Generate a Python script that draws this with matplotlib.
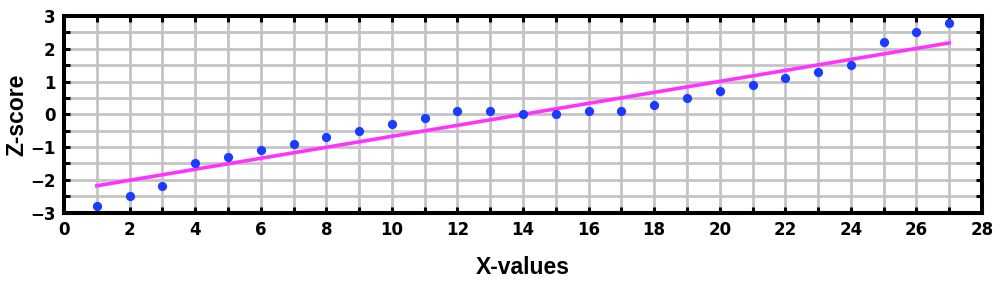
import matplotlib
matplotlib.use("Agg")
import matplotlib.pyplot as plt
from matplotlib.ticker import MultipleLocator

# ── Data ──
x_vals = [1, 2, 3, 4, 5, 6, 7, 8, 9, 10, 11, 12, 13, 14, 15, 16, 17, 18, 19, 20,
          21, 22, 23, 24, 25, 26, 27]
z_scores = [-2.8, -2.5, -2.2, -1.5, -1.3, -1.1, -0.9, -0.7, -0.5, -0.3, -0.1, 0.1,
            0.1, 0.0, 0.0, 0.1, 0.1, 0.3, 0.5, 0.7, 0.9, 1.1, 1.3, 1.5, 2.2, 2.5, 2.8]
fit_x = [1, 27]
fit_y = [-2.18, 2.18]

plt.rcParams['font.family'] = ['Liberation Sans', 'DejaVu Sans']
plt.rcParams['font.weight'] = 'bold'

fig = plt.figure(figsize=(10, 2.82), dpi=100)
ax = fig.add_axes([0.064, 0.246, 0.918, 0.697])

ax.set_xlim(0, 28)
ax.set_ylim(-3, 3)
ax.xaxis.set_major_locator(MultipleLocator(2))
ax.xaxis.set_minor_locator(MultipleLocator(1))
ax.yaxis.set_major_locator(MultipleLocator(1))
ax.yaxis.set_minor_locator(MultipleLocator(0.5))

ax.grid(which='both', color='#c4c4c4', linewidth=2.0, zorder=0)
ax.set_axisbelow(True)

ax.plot(fit_x, fit_y, color='#ff33ff', linewidth=2.6, zorder=2)
ax.scatter(x_vals, z_scores, s=44, color='#1a3cff', zorder=3, linewidths=0)

for sp in ax.spines.values():
    sp.set_linewidth(2.9)
    sp.set_color('black')

ax.tick_params(which='both', direction='in', top=True, right=True,
               width=2.2, length=4.5, color='black')
ax.tick_params(which='major', labelsize=12, pad=6)
for lbl in ax.get_xticklabels() + ax.get_yticklabels():
    lbl.set_fontweight('bold')
    lbl.set_family('DejaVu Sans')

ax.set_xlabel('X-values', fontsize=16.5, fontweight='bold', labelpad=12)
ax.set_ylabel('Z-score', fontsize=16.5, fontweight='bold', labelpad=1)

plt.savefig('out.png', dpi=100, facecolor='white')
